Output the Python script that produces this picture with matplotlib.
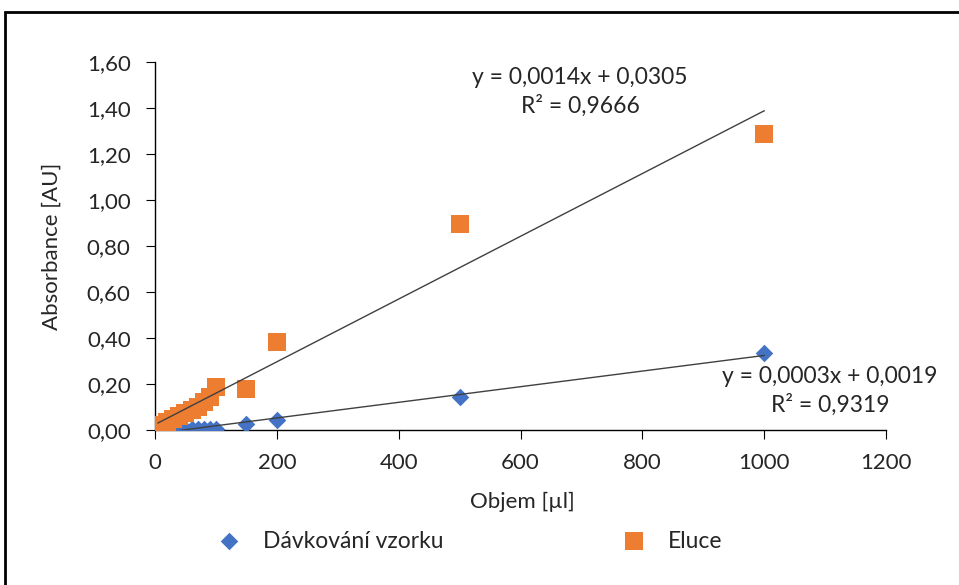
import numpy as np
import matplotlib.pyplot as plt
from matplotlib.patches import Rectangle
from matplotlib.ticker import FuncFormatter

plt.rcParams['font.family'] = ['Lato', 'DejaVu Sans']

# data
objem_vz = [5, 10, 20, 30, 40, 50, 60, 70, 80, 90, 100, 150, 200, 500, 1000]
abs_vz = [0.000, 0.000, 0.002, 0.002, 0.003, 0.004, 0.005, 0.005, 0.005, 0.005, 0.006, 0.026, 0.043, 0.143, 0.335]

objem_el = [5, 10, 20, 30, 40, 50, 60, 70, 80, 90, 100, 150, 200, 500, 1000]
abs_el = [0.012, 0.022, 0.035, 0.050, 0.062, 0.075, 0.085, 0.100, 0.120, 0.145, 0.187, 0.178, 0.383, 0.895, 1.287]

eq_vz = 'y = 0,0003x + 0,0019\nR² = 0,9319'
eq_el = 'y = 0,0014x + 0,0305\nR² = 0,9666'

blue = '#4472C4'
orange = '#ED7D31'
txt = '#262626'

fig = plt.figure(figsize=(9.59, 5.85), dpi=100)
ax = fig.add_axes([155 / 959, 1 - 430 / 585, 731 / 959, 368 / 585])

ax.scatter(objem_vz, abs_vz, marker='D', s=80, color=blue, zorder=3, label='Dávkování vzorku', linewidths=0)
ax.scatter(objem_el, abs_el, marker='s', s=185, color=orange, zorder=3, label='Eluce', linewidths=0)

# linear trend lines
for xs, ys in [(objem_vz, abs_vz), (objem_el, abs_el)]:
    k, q = np.polyfit(xs, ys, 1)
    xx = np.array([min(xs), max(xs)])
    ax.plot(xx, k * xx + q, color='#404040', lw=1, zorder=4)

ax.set_xlim(0, 1200)
ax.set_ylim(0, 1.6)
ax.set_xticks(np.arange(0, 1201, 200))
ax.set_yticks(np.arange(0, 1.61, 0.2))
ax.yaxis.set_major_formatter(FuncFormatter(lambda v, p: f'{v:.2f}'.replace('.', ',')))
for s in ['top', 'right']:
    ax.spines[s].set_visible(False)
for s in ['left', 'bottom']:
    ax.spines[s].set_color('#000000')
    ax.spines[s].set_linewidth(1)
ax.tick_params(labelsize=16, length=6.5, color='#000000', labelcolor=txt)
ax.tick_params(axis='y', pad=11)
ax.tick_params(axis='x', pad=10)
ax.set_xlabel('Objem [µl]', fontsize=16, color=txt)
ax.set_ylabel('Absorbance [AU]', fontsize=16, color=txt)
ax.xaxis.set_label_coords((522 - 155) / 731, -62 / 368)
ax.yaxis.set_label_coords(-93 / 731, 0.5)

ax.text(698, 1.47, eq_el, ha='center', va='center',
        fontsize=16.5, color=txt, linespacing=1.4)
ax.text(1108, 0.17, eq_vz, ha='center', va='center',
        fontsize=16.5, color=txt, linespacing=1.4)

fig.legend(loc='center', bbox_to_anchor=(470 / 959, 1 - 541 / 585), ncol=2, frameon=False,
           fontsize=16.5, columnspacing=7.8, handlelength=1.0, handletextpad=1.0,
           labelcolor=txt)

fig.add_artist(Rectangle((5 / 959, -0.05), 1.1, 1 - 12 / 585 + 0.05, transform=fig.transFigure,
                         fill=False, edgecolor='black', lw=2))

fig.savefig('out.png', dpi=100)
